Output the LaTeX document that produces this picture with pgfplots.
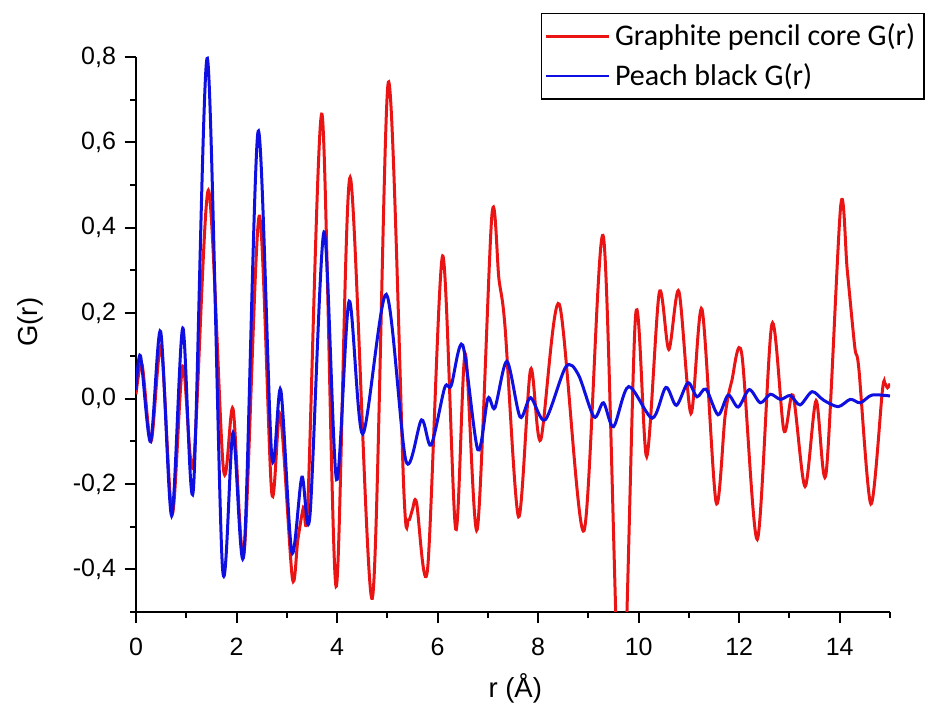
\documentclass[border=0pt]{standalone}
\usepackage{fontspec}
\setmainfont{Liberation Sans}
\newfontfamily\legfont{Carlito}
\usepackage{pgfplots}
\pgfplotsset{compat=1.18}
\definecolor{gred}{RGB}{235,20,20}
\definecolor{pblue}{RGB}{15,15,225}

\begin{document}
\begin{tikzpicture}
\begin{axis}[
  scale only axis, width=301.6pt, height=222pt,
  xmin=0, xmax=15, ymin=-0.5, ymax=0.8,
  axis x line=bottom, axis y line=left,
  axis line style={-, line width=0.8pt},
  tick align=outside, tick style={black, line width=0.8pt},
  major tick length=4.5pt, minor tick length=2.3pt,
  xtick={0,2,...,14}, minor xtick={1,3,...,15},
  ytick={-0.4,-0.2,0,0.2,0.4,0.6,0.8},
  yticklabels={{-0,4},{-0,2},{0,0},{0,2},{0,4},{0,6},{0,8}},
  minor ytick={-0.5,-0.3,-0.1,0.1,0.3,0.5,0.7},
  /pgf/number format/assume math mode=true,
  tick label style={font=\fontsize{10}{12}\selectfont},
  xticklabel style={yshift=-2.4pt},
  xlabel={r (Å)}, ylabel={G(r)},
  label style={font=\fontsize{11}{13}\selectfont},
  xlabel style={at={(axis description cs:0.503,-0.137)}, anchor=center},
  ylabel style={at={(axis description cs:-0.14,0.522)}, anchor=center},
  legend style={at={(axis description cs:1.046,1.079)}, anchor=north east,
    draw=black, line width=0.5pt, font=\legfont\fontsize{12}{14}\selectfont,
    inner xsep=1.5pt, inner ysep=2pt, row sep=1.5pt},
  legend cell align=left,
  legend image code/.code={\draw[#1, line width=1pt] (0pt,0pt) -- (25pt,0pt);},
]
\coordinate (o) at (rel axis cs:0,0);
\addplot[gred, line width=1.2pt, smooth, tension=0.5] coordinates {
(0,0.01)(0.12,0.08)(0.30,-0.10)(0.50,0.12)(0.72,-0.27)(0.93,0.076)(1.14,-0.157)
(1.44,0.488)(1.74,-0.166)(1.93,-0.024)(2.15,-0.36)(2.45,0.427)(2.70,-0.22)
(2.87,-0.036)(3.11,-0.42)(3.22,-0.33)(3.33,-0.255)(3.42,-0.24)(3.70,0.666)
(3.98,-0.44)(4.26,0.518)(4.70,-0.468)(5.02,0.741)(5.33,-0.22)(5.42,-0.284)
(5.50,-0.26)(5.58,-0.243)(5.80,-0.40)(6.10,0.334)(6.36,-0.306)(6.55,0.105)
(6.79,-0.306)(7.08,0.429)(7.22,0.28)(7.34,0.17)(7.61,-0.277)(7.85,0.068)
(8.05,-0.097)(8.42,0.221)(8.91,-0.31)(9.30,0.378)(9.65,-0.80)(9.94,0.196)
(10.16,-0.136)(10.41,0.248)(10.60,0.115)(10.80,0.251)(11.04,-0.035)(11.26,0.209)
(11.54,-0.243)(11.72,-0.04)(11.85,0.04)(12.05,0.105)(12.36,-0.33)(12.65,0.174)
(12.89,-0.075)(13.07,0.008)(13.31,-0.206)(13.53,-0.005)(13.73,-0.174)(14.02,0.452)
(14.15,0.30)(14.30,0.12)(14.38,0.07)(14.62,-0.247)(14.85,0.02)(14.90,0.035)
(14.95,0.025)(15,0.035)};
\addlegendentry{Graphite pencil core G(r)}
\addplot[pblue, line width=1.2pt, smooth, tension=0.5] coordinates {
(0,0.02)(0.09,0.10)(0.29,-0.101)(0.49,0.157)(0.71,-0.275)(0.93,0.165)(1.14,-0.215)
(1.42,0.797)(1.72,-0.395)(1.93,-0.08)(2.15,-0.36)(2.43,0.626)(2.70,-0.133)
(2.88,0.02)(3.10,-0.36)(3.30,-0.184)(3.46,-0.275)(3.74,0.39)(3.99,-0.19)
(4.24,0.228)(4.51,-0.083)(4.98,0.244)(5.37,-0.146)(5.68,-0.05)(5.87,-0.109)
(6.14,0.025)(6.27,0.03)(6.50,0.125)(6.80,-0.12)(7.0,0.0)(7.14,-0.022)(7.38,0.087)
(7.64,-0.043)(7.85,0.002)(8.14,-0.05)(8.55,0.074)(8.80,0.056)(9.11,-0.043)
(9.30,-0.01)(9.50,-0.066)(9.80,0.028)(10.27,-0.046)(10.54,0.026)(10.75,-0.016)
(10.98,0.037)(11.16,0.004)(11.34,0.022)(11.58,-0.038)(11.78,0.008)(11.98,-0.02)
(12.20,0.021)(12.42,-0.01)(12.62,0.01)(12.82,-0.002)(13.02,0.007)(13.21,-0.015)
(13.45,0.016)(13.68,-0.004)(13.97,-0.019)(14.21,-0.002)(14.41,-0.01)(14.64,0.008)
(15,0.006)};
\addlegendentry{Peach black G(r)}
\end{axis}
\path[use as bounding box] (o) ++(-54.4pt,-35.2pt) rectangle ++(372pt,280pt);
\end{tikzpicture}
\end{document}
